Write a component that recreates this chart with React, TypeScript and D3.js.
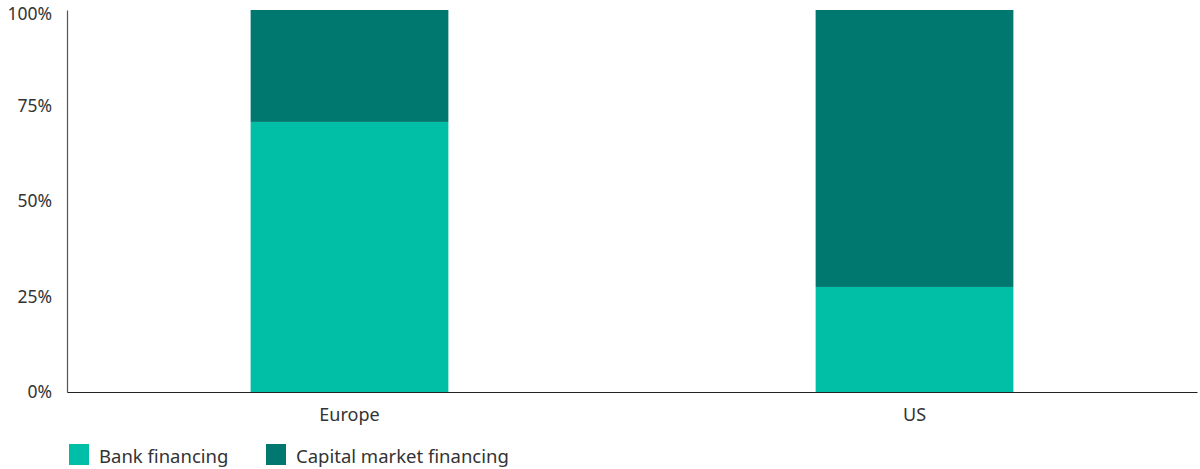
import React, { useEffect, useRef } from 'react';
import * as d3 from 'd3';

const regions = ['Europe', 'US'];
const bankFinancing = [70.7, 27.5];
const capitalMarketFinancing = [29.3, 72.5];
const yTicks = [0, 25, 50, 75, 100];
const seriesNames = ['Bank financing', 'Capital market financing'];
const seriesColors = ['#00BFA6', '#00776F'];

const App: React.FC = () => {
  const ref = useRef<SVGSVGElement>(null);

  useEffect(() => {
    if (!ref.current) return;
    const svg = d3.select(ref.current);
    svg.selectAll('*').remove();

    const left = 67;
    const right = 1197;
    const top = 10;
    const bottom = 392;
    const font = "'Noto Sans', 'Open Sans', sans-serif";
    const textColor = '#333333';

    const rows = regions.map((r, i) => ({
      region: r,
      bank: bankFinancing[i],
      capital: capitalMarketFinancing[i],
    }));

    const x = d3.scaleBand()
      .domain(regions)
      .range([left, right])
      .paddingInner(0.65)
      .paddingOuter(0.325);

    const y = d3.scaleLinear().domain([0, 100]).range([bottom, top]);

    const stack = d3.stack<any>().keys(['bank', 'capital']);
    const layers = stack(rows);

    svg.append('g')
      .selectAll('g')
      .data(layers)
      .enter()
      .append('g')
      .attr('fill', (_, i) => seriesColors[i])
      .selectAll('rect')
      .data(d => d)
      .enter()
      .append('rect')
      .attr('x', d => x(d.data.region) as number)
      .attr('width', x.bandwidth())
      .attr('y', d => y(d[1]))
      .attr('height', d => y(d[0]) - y(d[1]));

    // y axis
    const yAxis = svg.append('g')
      .attr('transform', `translate(${left},0)`)
      .call(d3.axisLeft(y).tickValues(yTicks).tickSize(0).tickPadding(15).tickFormat(d => `${d}%`));
    yAxis.select('.domain').attr('stroke', '#555').attr('stroke-width', 1.2);
    yAxis.selectAll('text')
      .attr('fill', textColor)
      .style('font-family', font)
      .style('font-size', '17.5px');
    // keep the top label inside the picture
    yAxis.selectAll<SVGGElement, number>('.tick')
      .filter(d => d === 100)
      .select('text')
      .attr('dy', '0.55em');

    // x axis
    const xAxis = svg.append('g')
      .attr('transform', `translate(0,${bottom})`)
      .call(d3.axisBottom(x).tickSize(0).tickPadding(16));
    xAxis.select('.domain').attr('stroke', '#222').attr('stroke-width', 1.2);
    xAxis.selectAll('text')
      .attr('fill', textColor)
      .style('font-family', font)
      .style('font-size', '18px');

    // legend
    const legendX = [69, 266];
    const legend = svg.append('g');
    seriesNames.forEach((name, i) => {
      legend.append('rect')
        .attr('x', legendX[i])
        .attr('y', 444)
        .attr('width', 20)
        .attr('height', 21)
        .attr('fill', seriesColors[i]);
      legend.append('text')
        .attr('x', legendX[i] + 30)
        .attr('y', 463)
        .attr('fill', textColor)
        .style('font-family', font)
        .style('font-size', '18.5px')
        .text(name);
    });
  }, []);

  return (
    <svg
      ref={ref}
      width={1200}
      height={469}
      style={{ position: 'absolute', left: 0, top: 0, display: 'block', background: '#fff' }}
    />
  );
};

export default App;
